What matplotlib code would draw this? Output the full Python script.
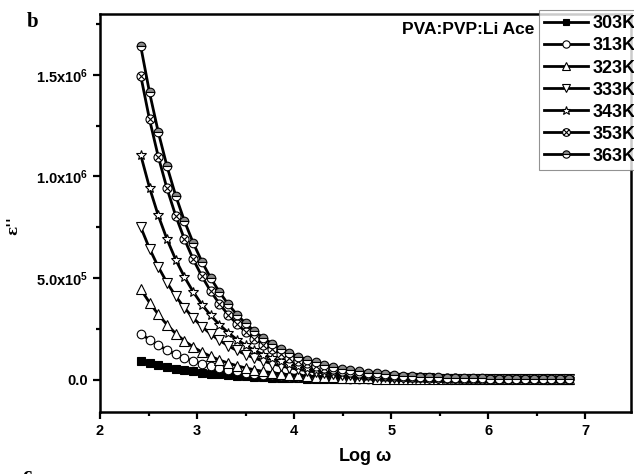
import matplotlib
matplotlib.use("Agg")
import matplotlib.pyplot as plt
from matplotlib.path import Path
import numpy as np

plt.rcParams.update({
    "font.family": ["Liberation Sans", "DejaVu Sans"],
    "font.weight": "bold",
    "mathtext.fontset": "custom",
    "mathtext.rm": "Liberation Sans:bold",
    "mathtext.bf": "Liberation Sans:bold",
    "mathtext.it": "Liberation Sans:bold",
})

# ── data (eps'' in units of 1e5) ─────────────────────────────────────────────
log_w = [2.42, 2.51, 2.60, 2.69, 2.78, 2.87, 2.96, 3.05, 3.14, 3.23,
         3.32, 3.41, 3.50, 3.59, 3.68, 3.77, 3.86, 3.95, 4.04, 4.13,
         4.22, 4.31, 4.40, 4.49, 4.58, 4.67, 4.76, 4.85, 4.94, 5.03,
         5.12, 5.21, 5.30, 5.39, 5.48, 5.57, 5.66, 5.75, 5.84, 5.93,
         6.02, 6.11, 6.20, 6.29, 6.38, 6.47, 6.56, 6.65, 6.74, 6.83]

eps_303 = [0.92, 0.80, 0.70, 0.61, 0.53, 0.46, 0.40, 0.34, 0.29, 0.25,
           0.21, 0.18, 0.155, 0.13, 0.11, 0.095, 0.080, 0.068, 0.058, 0.049,
           0.041, 0.035, 0.029, 0.025, 0.021, 0.018, 0.015, 0.012, 0.010, 0.009,
           0.007, 0.006, 0.005, 0.004, 0.004, 0.003, 0.003, 0.002, 0.002, 0.002,
           0.001, 0.001, 0.001, 0.001, 0.001, 0.001, 0.0, 0.0, 0.0, 0.0]
eps_313 = [2.25, 1.96, 1.69, 1.45, 1.24, 1.06, 0.90, 0.77, 0.65, 0.55,
           0.47, 0.40, 0.34, 0.29, 0.24, 0.20, 0.17, 0.145, 0.12, 0.10,
           0.087, 0.073, 0.062, 0.052, 0.044, 0.037, 0.031, 0.026, 0.022, 0.019,
           0.016, 0.013, 0.011, 0.009, 0.008, 0.007, 0.006, 0.005, 0.004, 0.003,
           0.003, 0.003, 0.002, 0.002, 0.002, 0.001, 0.001, 0.001, 0.001, 0.001]
eps_323 = [4.44, 3.79, 3.21, 2.70, 2.26, 1.90, 1.60, 1.35, 1.14, 0.96,
           0.81, 0.68, 0.57, 0.48, 0.40, 0.34, 0.28, 0.24, 0.20, 0.17,
           0.14, 0.12, 0.10, 0.085, 0.072, 0.060, 0.051, 0.043, 0.036, 0.030,
           0.026, 0.022, 0.018, 0.015, 0.013, 0.011, 0.009, 0.008, 0.007, 0.006,
           0.005, 0.004, 0.004, 0.003, 0.003, 0.002, 0.002, 0.002, 0.001, 0.001]
eps_333 = [7.50, 6.45, 5.55, 4.77, 4.10, 3.53, 3.03, 2.61, 2.24, 1.93,
           1.66, 1.43, 1.23, 1.06, 0.91, 0.78, 0.67, 0.58, 0.50, 0.43,
           0.37, 0.32, 0.27, 0.23, 0.20, 0.17, 0.15, 0.13, 0.11, 0.095,
           0.082, 0.070, 0.060, 0.052, 0.045, 0.039, 0.033, 0.029, 0.025, 0.021,
           0.018, 0.016, 0.013, 0.012, 0.010, 0.009, 0.007, 0.006, 0.005, 0.005]
eps_343 = [11.05, 9.45, 8.08, 6.91, 5.90, 5.05, 4.32, 3.69, 3.16, 2.70,
           2.31, 1.97, 1.69, 1.44, 1.23, 1.05, 0.90, 0.77, 0.66, 0.56,
           0.48, 0.41, 0.35, 0.30, 0.26, 0.22, 0.19, 0.16, 0.14, 0.12,
           0.10, 0.087, 0.074, 0.064, 0.054, 0.046, 0.040, 0.034, 0.029, 0.025,
           0.021, 0.018, 0.015, 0.013, 0.011, 0.010, 0.008, 0.007, 0.006, 0.005]
eps_353 = [14.95, 12.81, 10.98, 9.41, 8.06, 6.91, 5.92, 5.08, 4.35, 3.73,
           3.19, 2.74, 2.35, 2.01, 1.72, 1.48, 1.27, 1.08, 0.93, 0.80,
           0.68, 0.58, 0.50, 0.43, 0.37, 0.31, 0.27, 0.23, 0.20, 0.17,
           0.145, 0.124, 0.106, 0.091, 0.078, 0.067, 0.057, 0.049, 0.042, 0.036,
           0.031, 0.027, 0.023, 0.019, 0.017, 0.014, 0.012, 0.010, 0.009, 0.008]
eps_363 = [16.40, 14.14, 12.19, 10.50, 9.05, 7.80, 6.73, 5.80, 5.00, 4.31,
           3.71, 3.20, 2.76, 2.38, 2.05, 1.77, 1.52, 1.31, 1.13, 0.976,
           0.841, 0.725, 0.625, 0.539, 0.464, 0.400, 0.345, 0.297, 0.256, 0.221,
           0.190, 0.164, 0.141, 0.122, 0.105, 0.090, 0.078, 0.067, 0.058, 0.050,
           0.043, 0.037, 0.032, 0.028, 0.024, 0.021, 0.018, 0.015, 0.013, 0.011]

labels = ["303K", "313K", "323K", "333K", "343K", "353K", "363K"]
series = [eps_303, eps_313, eps_323, eps_333, eps_343, eps_353, eps_363]

y_ticks = [0.0, 5e5, 1e6, 1.5e6]
y_tick_labels = ["0.0", r"5.0x10$^{5}$", r"1.0x10$^{6}$", r"1.5x10$^{6}$"]
x_ticks = [2, 3, 4, 5, 6, 7]

# ── markers ──────────────────────────────────────────────────────────────────
circ = Path.unit_circle()
s = 0.7071
cross = Path([(-s, -s), (s, s), (-s, s), (s, -s)],
             [Path.MOVETO, Path.LINETO, Path.MOVETO, Path.LINETO])
circ_x = Path.make_compound_path(circ, cross)

styles = [
    dict(marker="s", mfc="black", ms=5.5),
    dict(marker="o", mfc="white", ms=6.2),
    dict(marker="^", mfc="white", ms=6.8),
    dict(marker="v", mfc="white", ms=6.8),
    dict(marker="*", mfc="white", ms=7.5),
    dict(marker=circ_x, mfc="white", ms=6.5),
    dict(marker="o", mfc="#8a8a8a", ms=6.2, fillstyle="top",
         markerfacecoloralt="white"),
]

fig = plt.figure(figsize=(6.34, 4.74), dpi=100)
ax = fig.add_axes([100 / 634, 1 - 412 / 474, 531 / 634, 398 / 474])

x = np.array(log_w)
for lab, vals, st in zip(labels, series, styles):
    ax.plot(x, np.array(vals) * 1e5, color="black", lw=2.0,
            mec="black", mew=0.8, label=lab, **st)

ax.set_xlim(2, 7.47)
ax.set_ylim(-1.6e5, 1.8e6)
ax.set_xticks(x_ticks)
ax.set_xticks([2.5, 3.5, 4.5, 5.5, 6.5], minor=True)
ax.set_yticks(y_ticks)
ax.set_yticklabels(y_tick_labels)
ax.set_yticks([2.5e5, 7.5e5, 1.25e6, 1.75e6], minor=True)
ax.tick_params(which="both", direction="out", width=1.6, labelsize=10.5,
               top=False, right=False)
ax.tick_params(which="major", length=5)
ax.tick_params(which="minor", length=3)
for sp in ax.spines.values():
    sp.set_linewidth(1.8)

ax.set_xlabel(r"Log $\omega$", fontsize=13, fontweight="bold", labelpad=6)
fig.text(13 / 634, 1 - 226 / 474, "ε''", rotation=90,
         ha="center", va="center", fontsize=11, fontweight="bold",
         family=["DejaVu Serif"])

fig.text(534 / 634, 1 - 29 / 474, "PVA:PVP:Li Ace", ha="right", va="center",
         fontsize=12.5, fontweight="bold")
fig.text(27 / 634, 1 - 22 / 474, "b", ha="left", va="center", fontsize=15,
         fontweight="bold", family=["Liberation Serif"])
fig.text(22 / 634, 1 - 466 / 474, "c", ha="left", va="top", fontsize=15,
         fontweight="bold", family=["Liberation Serif"])

leg = fig.legend(loc="upper left", bbox_to_anchor=(539 / 634, 1 - 10 / 474),
                 frameon=True, fancybox=False, edgecolor="#777777",
                 handlelength=2.4, handletextpad=0.25,
                 labelspacing=0.28, borderpad=0.3, borderaxespad=0,
                 markerscale=0.85, prop={"weight": "bold", "size": 13})
leg.get_frame().set_linewidth(0.8)

fig.savefig("out.png", dpi=100)
